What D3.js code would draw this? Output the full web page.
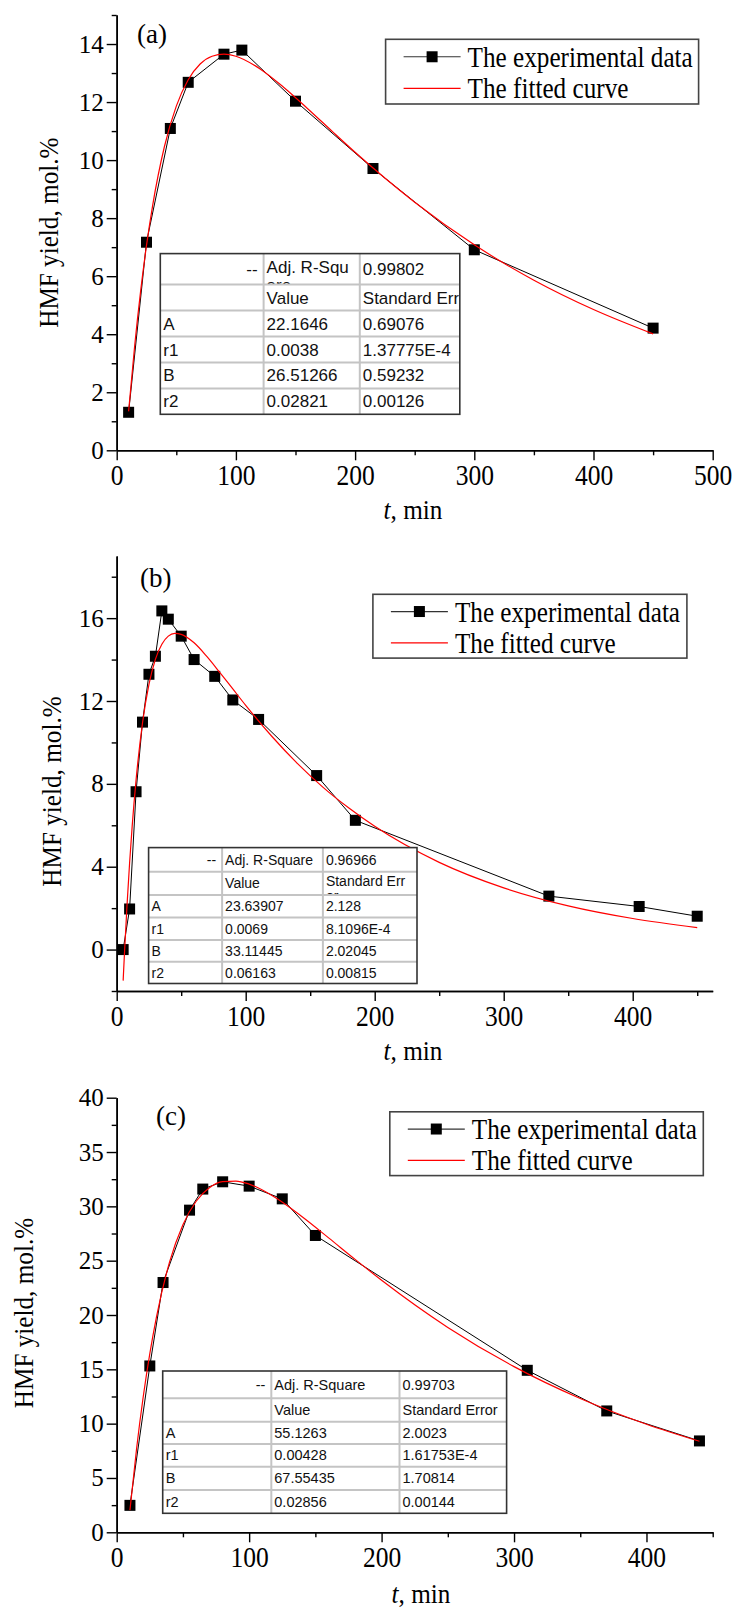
<!DOCTYPE html>
<html>
<head>
<meta charset="utf-8">
<script src="https://cdn.jsdelivr.net/npm/d3@7"></script>
<style>
  body { margin: 0; background: #fff; }
  svg { display: block; }
</style>
</head>
<body>
<script>
// ---- data ----
// panel (a)
const aExpT = [10, 25, 45, 60, 90, 105, 150, 215, 300, 450];
const aExpY = [1.31, 7.17, 11.09, 12.68, 13.65, 13.79, 12.03, 9.71, 6.91, 4.21];
const aFitT = [10, 15, 20, 25, 30, 40, 50, 60, 70, 80, 90, 100, 120, 140, 160, 180, 200, 250, 300, 350, 400, 450];
const aFitY = [1.34, 3.57, 5.46, 7.06, 8.4, 10.46, 11.86, 12.77, 13.31, 13.58, 13.65, 13.58, 13.15, 12.51, 11.78, 11.02, 10.27, 8.55, 7.08, 5.86, 4.85, 4.01];
const aYMajor = [0, 2, 4, 6, 8, 10, 12, 14];
const aYMinor = [1, 3, 5, 7, 9, 11, 13, 15];
const aXMajor = [0, 100, 200, 300, 400, 500];
const aXMinor = [50, 150, 250, 350, 450];
const aTable = [
  ["--", ["Adj. R-Squ", "are"], "0.99802"],
  ["", "Value", "Standard Error"],
  ["A", "22.1646", "0.69076"],
  ["r1", "0.0038", "1.37775E-4"],
  ["B", "26.51266", "0.59232"],
  ["r2", "0.02821", "0.00126"]
];

// panel (b)
const bExpT = [5, 10, 15, 20, 25, 30, 35, 40, 50, 60, 76, 90, 110, 155, 185, 335, 405, 450];
const bExpY = [0.0, 1.96, 7.62, 10.98, 13.29, 14.16, 16.35, 15.95, 15.13, 14.0, 13.19, 12.05, 11.11, 8.4, 6.24, 2.58, 2.08, 1.61];
const bFitT = [5, 6, 8, 10, 12, 15, 20, 25, 30, 35, 40, 45, 50, 60, 70, 80, 90, 100, 120, 140, 160, 180, 200, 250, 300, 350, 400, 450];
const bFitY = [-1.5, -0.2, 2.14, 4.18, 5.96, 8.18, 10.94, 12.8, 14.01, 14.74, 15.13, 15.26, 15.22, 14.81, 14.14, 13.37, 12.58, 11.79, 10.31, 8.99, 7.83, 6.83, 5.95, 4.21, 2.98, 2.11, 1.5, 1.06];
const bYMajor = [0, 4, 8, 12, 16];
const bYMinor = [-2, 2, 6, 10, 14, 18];
const bXMajor = [0, 100, 200, 300, 400];
const bXMinor = [50, 150, 250, 350, 450];
const bTable = [
  ["--", "Adj. R-Square", "0.96966"],
  ["", "Value", ["Standard Err", "or"]],
  ["A", "23.63907", "2.128"],
  ["r1", "0.0069", "8.1096E-4"],
  ["B", "33.11445", "2.02045"],
  ["r2", "0.06163", "0.00815"]
];

// panel (c)
const cExpT = [10, 25, 35, 55, 65, 80, 100, 125, 150, 310, 370, 440];
const cExpY = [2.48, 15.31, 22.99, 29.65, 31.59, 32.26, 31.86, 30.69, 27.32, 14.91, 11.17, 8.41];
const cFitT = [10, 15, 20, 25, 30, 40, 50, 60, 70, 80, 90, 100, 120, 140, 160, 180, 200, 250, 300, 350, 400, 440];
const cFitY = [2.04, 7.69, 12.45, 16.45, 19.81, 24.91, 28.31, 30.47, 31.71, 32.27, 32.33, 32.05, 30.79, 29.04, 27.1, 25.12, 23.2, 18.86, 15.25, 12.32, 9.95, 8.38];
const cYMajor = [0, 5, 10, 15, 20, 25, 30, 35, 40];
const cYMinor = [2.5, 7.5, 12.5, 17.5, 22.5, 27.5, 32.5, 37.5];
const cXMajor = [0, 100, 200, 300, 400];
const cXMinor = [50, 150, 250, 350, 450];
const cTable = [
  ["--", "Adj. R-Square", "0.99703"],
  ["", "Value", "Standard Error"],
  ["A", "55.1263", "2.0023"],
  ["r1", "0.00428", "1.61753E-4"],
  ["B", "67.55435", "1.70814"],
  ["r2", "0.02856", "0.00144"]
];

const legendLabels = ["The experimental data", "The fitted curve"];
const yTitle = "HMF yield, mol.%";

// ---- page ----
const W = 737, H = 1609;
const SERIF = "'Liberation Serif', 'Times New Roman', serif";
const SANS = "'Liberation Sans', Arial, sans-serif";

const svg = d3.select("body").append("svg")
  .attr("width", W)
  .attr("height", H)
  .attr("viewBox", `0 0 ${W} ${H}`);
svg.append("rect").attr("width", W).attr("height", H).attr("fill", "#fff");

// the original type is a bit narrow and tall; squeeze a text horizontally
function squeezeAxisText(sel, sx) {
  sel.selectAll("text").each(function() {
    const t = d3.select(this);
    const tx = +t.attr("x") || 0;
    t.attr("x", 0).attr("transform", `translate(${tx},0) scale(${sx},1)`);
  });
}

function drawPanel(opt) {
  const g = svg.append("g");
  const x = d3.scaleLinear().domain(opt.xDomain).range([116.7, 712.7]);
  const y = d3.scaleLinear().domain(opt.yDomain).range([opt.bottom, opt.top]);

  const styleAxis = sel => {
    sel.selectAll("path.domain").attr("stroke", "#000").attr("stroke-width", 1.6);
    sel.selectAll(".tick line").attr("stroke", "#000").attr("stroke-width", 1.4);
  };

  // minor ticks
  g.append("g")
    .attr("transform", `translate(0,${opt.bottom})`)
    .call(d3.axisBottom(x).tickValues(opt.xMinor).tickSize(5).tickSizeOuter(0).tickFormat(""))
    .call(styleAxis);
  g.append("g")
    .attr("transform", `translate(116.7,0)`)
    .call(d3.axisLeft(y).tickValues(opt.yMinor).tickSize(5).tickSizeOuter(0).tickFormat(""))
    .call(styleAxis);

  // major ticks with labels
  const xa = g.append("g")
    .attr("transform", `translate(0,${opt.bottom})`)
    .call(d3.axisBottom(x).tickValues(opt.xMajor).tickSize(10).tickSizeOuter(0).tickPadding(4).tickFormat(d3.format("d")))
    .call(styleAxis);
  xa.selectAll("text")
    .attr("font-family", SERIF)
    .attr("font-size", 29)
    .attr("fill", "#000");
  squeezeAxisText(xa, 0.88);

  const ya = g.append("g")
    .attr("transform", `translate(116.7,0)`)
    .call(d3.axisLeft(y).tickValues(opt.yMajor).tickSize(10).tickSizeOuter(0).tickPadding(3).tickFormat(d3.format("d")))
    .call(styleAxis);
  ya.selectAll("text")
    .attr("font-family", SERIF)
    .attr("font-size", 25)
    .attr("fill", "#000");

  // axis titles
  g.append("text")
    .attr("transform", `translate(${opt.yTitleX},${(opt.top + opt.bottom) / 2 + opt.yTitleShift}) rotate(-90) scale(0.9,1)`)
    .attr("text-anchor", "middle")
    .attr("dy", "0.35em")
    .attr("font-family", SERIF)
    .attr("font-size", 28)
    .text(yTitle);

  const xt = g.append("text")
    .attr("transform", `translate(${opt.xTitleX},${opt.xTitleY}) scale(0.9,1)`)
    .attr("text-anchor", "middle")
    .attr("font-family", SERIF)
    .attr("font-size", 28);
  xt.append("tspan").attr("font-style", "italic").text("t");
  xt.append("tspan").text(", min");

  // panel letter
  g.append("text")
    .attr("x", opt.letterX)
    .attr("y", opt.letterY)
    .attr("font-family", SERIF)
    .attr("font-size", 27)
    .text(opt.letter);

  const expPts = opt.expT.map((t, i) => [t, opt.expY[i]]);
  const fitPts = opt.fitT.map((t, i) => [t, opt.fitY[i]]);

  // experimental data: line + square markers
  g.append("path")
    .datum(expPts)
    .attr("fill", "none")
    .attr("stroke", "#000")
    .attr("stroke-width", 1)
    .attr("d", d3.line().x(d => x(d[0])).y(d => y(d[1])));

  const ms = 11;
  g.selectAll("rect.marker")
    .data(expPts)
    .join("rect")
    .attr("class", "marker")
    .attr("x", d => x(d[0]) - ms / 2)
    .attr("y", d => y(d[1]) - ms / 2)
    .attr("width", ms)
    .attr("height", ms)
    .attr("fill", "#000");

  // fitted curve
  g.append("path")
    .datum(fitPts)
    .attr("fill", "none")
    .attr("stroke", "#ff0000")
    .attr("stroke-width", 1.2)
    .attr("d", d3.line().curve(d3.curveMonotoneX).x(d => x(d[0])).y(d => y(d[1])));

  // legend
  const lg = opt.legend;
  g.append("rect")
    .attr("x", lg.x0).attr("y", lg.y0)
    .attr("width", lg.x1 - lg.x0).attr("height", lg.y1 - lg.y0)
    .attr("fill", "#fff")
    .attr("stroke", "#444")
    .attr("stroke-width", 1.6);
  const rowsY = [lg.y0 + (lg.y1 - lg.y0) * 0.27, lg.y0 + (lg.y1 - lg.y0) * 0.76];
  const sx0 = lg.x0 + 18, sx1 = lg.x0 + 75;
  g.append("line")
    .attr("x1", sx0).attr("x2", sx1)
    .attr("y1", rowsY[0]).attr("y2", rowsY[0])
    .attr("stroke", "#333").attr("stroke-width", 1.2);
  g.append("rect")
    .attr("x", (sx0 + sx1) / 2 - 5.5).attr("y", rowsY[0] - 5.5)
    .attr("width", 11).attr("height", 11)
    .attr("fill", "#000");
  g.append("line")
    .attr("x1", sx0).attr("x2", sx1)
    .attr("y1", rowsY[1]).attr("y2", rowsY[1])
    .attr("stroke", "#ff0000").attr("stroke-width", 1.2);
  legendLabels.forEach((txt, i) => {
    g.append("text")
      .attr("transform", `translate(${lg.x0 + 82},${rowsY[i] + 10}) scale(0.84,1)`)
      .attr("font-family", SERIF)
      .attr("font-size", 30)
      .text(txt);
  });

  drawTable(g, opt.tableId, opt.tableCols, opt.tableRows, opt.tableFont, opt.table);
}

function drawTable(g, id, cols, rows, font, cells) {
  const t = g.append("g");
  const x0 = cols[0], x1 = cols[cols.length - 1];
  const y0 = rows[0], y1 = rows[rows.length - 1];
  t.append("rect")
    .attr("x", x0).attr("y", y0)
    .attr("width", x1 - x0).attr("height", y1 - y0)
    .attr("fill", "#fff");

  const defs = t.append("defs");
  cells.forEach((row, ri) => {
    row.forEach((cell, ci) => {
      // each cell clips its own text, like the original table widget
      const cid = `clip-${id}-${ri}-${ci}`;
      defs.append("clipPath").attr("id", cid)
        .append("rect")
        .attr("x", cols[ci]).attr("y", rows[ri])
        .attr("width", cols[ci + 1] - cols[ci] - 1)
        .attr("height", rows[ri + 1] - rows[ri]);
      const lines = Array.isArray(cell) ? cell : [cell];
      const mid = (rows[ri] + rows[ri + 1]) / 2;
      const base = lines.length > 1 ? mid + font * 0.35 - 2 : mid + font * 0.35;
      const right = ri === 0 && ci === 0;
      lines.forEach((ln, li) => {
        t.append("text")
          .attr("clip-path", `url(#${cid})`)
          .attr("x", right ? cols[ci + 1] - 6 : cols[ci] + 3)
          .attr("y", base + li * font * 1.05)
          .attr("text-anchor", right ? "end" : "start")
          .attr("font-family", SANS)
          .attr("font-size", font)
          .attr("fill", "#111")
          .text(ln);
      });
    });
  });

  // grid
  rows.slice(1, -1).forEach(ry => {
    t.append("line")
      .attr("x1", x0).attr("x2", x1).attr("y1", ry).attr("y2", ry)
      .attr("stroke", "#c4c4c4").attr("stroke-width", 2);
  });
  cols.slice(1, -1).forEach(cx => {
    t.append("line")
      .attr("x1", cx).attr("x2", cx).attr("y1", y0).attr("y2", y1)
      .attr("stroke", "#c4c4c4").attr("stroke-width", 2);
  });
  t.append("rect")
    .attr("x", x0).attr("y", y0)
    .attr("width", x1 - x0).attr("height", y1 - y0)
    .attr("fill", "none")
    .attr("stroke", "#333")
    .attr("stroke-width", 1.6);
}

drawPanel({
  letter: "(a)", letterX: 137, letterY: 43,
  top: 15, bottom: 450.3,
  xDomain: [0, 500], yDomain: [0, 15],
  xMajor: aXMajor, xMinor: aXMinor, yMajor: aYMajor, yMinor: aYMinor,
  yTitleX: 48, yTitleShift: 0,
  xTitleX: 413, xTitleY: 519,
  expT: aExpT, expY: aExpY, fitT: aFitT, fitY: aFitY,
  legend: { x0: 385.6, x1: 698.6, y0: 39.3, y1: 104 },
  tableId: "a",
  tableCols: [160.3, 263.6, 359.8, 459.8],
  tableRows: [253.6, 284.6, 310.6, 336.6, 362.6, 388.4, 414.3],
  tableFont: 17,
  table: aTable
});

drawPanel({
  letter: "(b)", letterX: 140, letterY: 587,
  top: 556, bottom: 991,
  xDomain: [0, 462], yDomain: [-2, 19],
  xMajor: bXMajor, xMinor: bXMinor, yMajor: bYMajor, yMinor: bYMinor,
  yTitleX: 51, yTitleShift: 18,
  xTitleX: 413, xTitleY: 1060,
  expT: bExpT, expY: bExpY, fitT: bFitT, fitY: bFitY,
  legend: { x0: 372.9, x1: 686.9, y0: 594.3, y1: 658.1 },
  tableId: "b",
  tableCols: [148.6, 222.1, 322.9, 417],
  tableRows: [847.6, 871.8, 895, 917.5, 940, 961.7, 983.5],
  tableFont: 14,
  table: bTable
});

drawPanel({
  letter: "(c)", letterX: 156, letterY: 1125,
  top: 1097.7, bottom: 1532.3,
  xDomain: [0, 450], yDomain: [0, 40],
  xMajor: cXMajor, xMinor: cXMinor, yMajor: cYMajor, yMinor: cYMinor,
  yTitleX: 23, yTitleShift: -2,
  xTitleX: 421, xTitleY: 1603,
  expT: cExpT, expY: cExpY, fitT: cFitT, fitY: cFitY,
  legend: { x0: 389.8, x1: 703.3, y0: 1111.8, y1: 1175.6 },
  tableId: "c",
  tableCols: [162.7, 271.3, 399.5, 506.6],
  tableRows: [1371, 1398.3, 1421.7, 1444, 1466.7, 1490, 1513.3],
  tableFont: 14.5,
  table: cTable
});
</script>
</body>
</html>
